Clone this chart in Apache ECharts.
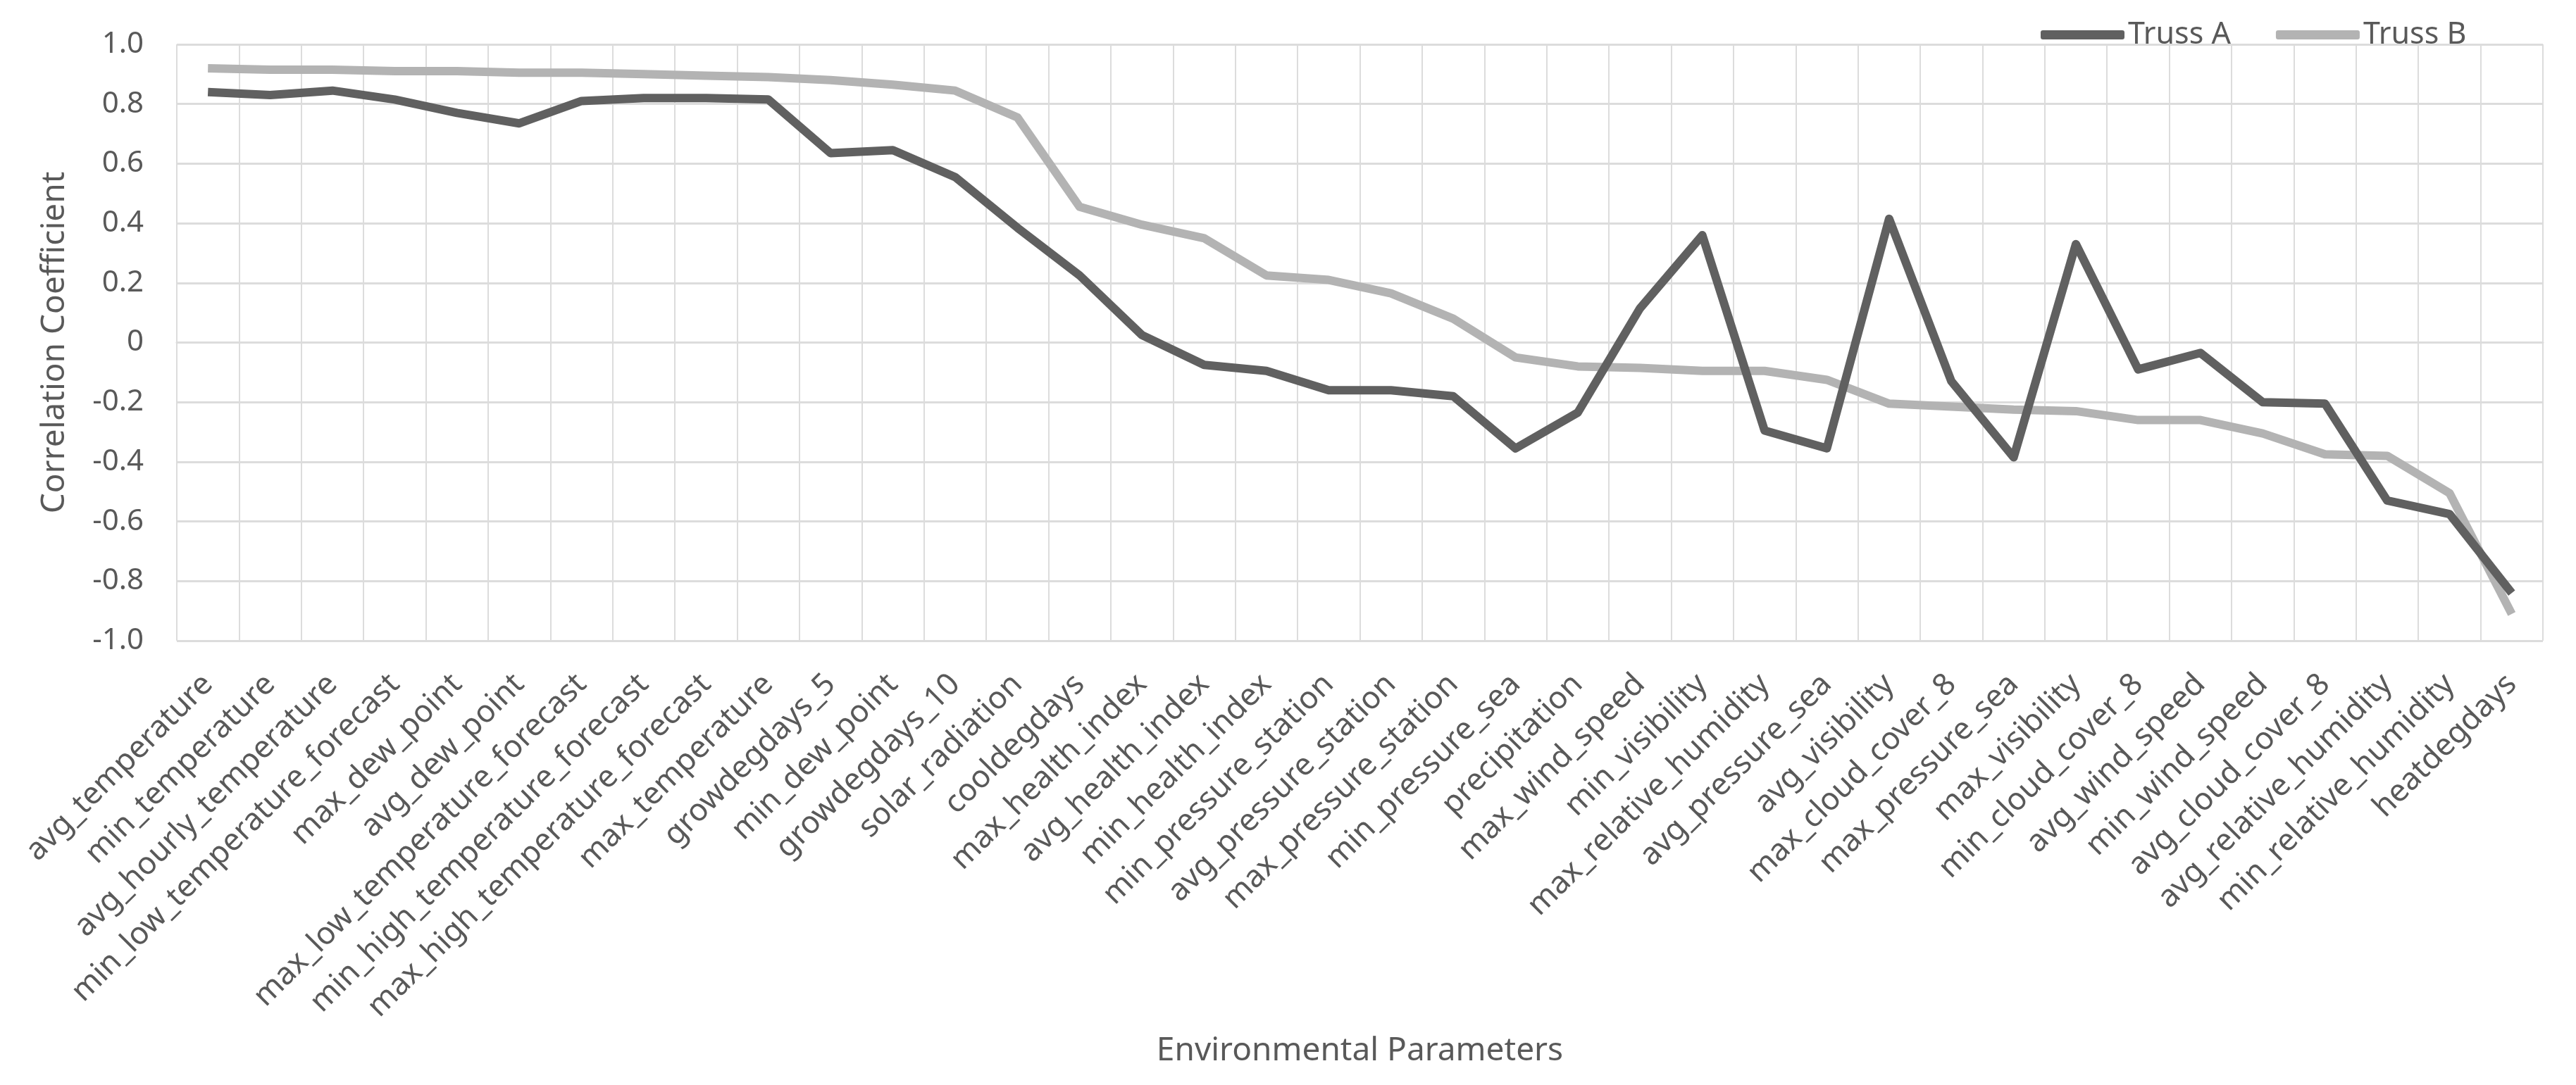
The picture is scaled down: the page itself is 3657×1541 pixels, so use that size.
<!DOCTYPE html>
<html>
<head>
<meta charset="utf-8">
<script src="https://cdn.jsdelivr.net/npm/echarts@6/dist/echarts.min.js"></script>
<style>
  html, body { margin: 0; padding: 0; background: #ffffff; }
  #chart { width: 3657px; height: 1541px; }
</style>
</head>
<body>
<div id="chart"></div>
<script>
const categories = [
  'avg_temperature', 'min_temperature', 'avg_hourly_temperature', 'min_low_temperature_forecast',
  'max_dew_point', 'avg_dew_point', 'max_low_temperature_forecast', 'min_high_temperature_forecast',
  'max_high_temperature_forecast', 'max_temperature', 'growdegdays_5', 'min_dew_point',
  'growdegdays_10', 'solar_radiation', 'cooldegdays', 'max_health_index', 'avg_health_index',
  'min_health_index', 'min_pressure_station', 'avg_pressure_station', 'max_pressure_station',
  'min_pressure_sea', 'precipitation', 'max_wind_speed', 'min_visibility', 'max_relative_humidity',
  'avg_pressure_sea', 'avg_visibility', 'max_cloud_cover_8', 'max_pressure_sea', 'max_visibility',
  'min_cloud_cover_8', 'avg_wind_speed', 'min_wind_speed', 'avg_cloud_cover_8',
  'avg_relative_humidity', 'min_relative_humidity', 'heatdegdays'
];

const trussA = [
  0.84, 0.83, 0.845, 0.815, 0.77, 0.735, 0.81, 0.82, 0.82, 0.815,
  0.635, 0.645, 0.555, 0.385, 0.225, 0.025, -0.075, -0.095, -0.16, -0.16,
  -0.18, -0.355, -0.235, 0.115, 0.36, -0.295, -0.355, 0.415, -0.13, -0.385,
  0.33, -0.09, -0.035, -0.2, -0.205, -0.53, -0.575, -0.84
];

const trussB = [
  0.92, 0.915, 0.915, 0.91, 0.91, 0.905, 0.905, 0.9, 0.895, 0.89,
  0.88, 0.865, 0.845, 0.755, 0.455, 0.395, 0.35, 0.225, 0.21, 0.165,
  0.08, -0.05, -0.08, -0.085, -0.095, -0.095, -0.125, -0.205, -0.215, -0.225,
  -0.23, -0.26, -0.26, -0.305, -0.375, -0.38, -0.505, -0.91
];

const seriesNames = ['Truss A', 'Truss B'];
const yTicks = { min: -1, max: 1, step: 0.2 };

const textColor = '#595959';
const gridColor = '#dcdcdc';
const fontFamily = '"Noto Sans", "Open Sans", sans-serif';

const chart = echarts.init(document.getElementById('chart'), null, { renderer: 'canvas' });

chart.setOption({
  backgroundColor: '#ffffff',
  animation: false,
  textStyle: { fontFamily: fontFamily, color: textColor },
  legend: {
    data: seriesNames,
    left: 2892,
    top: 23,
    icon: 'roundRect',
    itemWidth: 119,
    itemHeight: 13,
    itemGap: 64,
    textStyle: { fontSize: 43, color: textColor, fontFamily: fontFamily }
  },
  grid: { left: 251, right: 47, top: 63, bottom: 631, containLabel: false },
  xAxis: {
    type: 'category',
    data: categories,
    boundaryGap: true,
    name: 'Environmental Parameters',
    nameLocation: 'middle',
    nameGap: 560,
    nameTextStyle: { fontSize: 46, color: textColor, fontFamily: fontFamily },
    axisLine: { show: true, lineStyle: { color: gridColor, width: 3 } },
    axisTick: { show: false },
    axisLabel: {
      interval: 0,
      rotate: 45,
      margin: 55,
      fontSize: 44,
      color: textColor,
      fontFamily: fontFamily
    },
    splitLine: { show: true, interval: 0, lineStyle: { color: gridColor, width: 2 } }
  },
  yAxis: {
    type: 'value',
    min: yTicks.min,
    max: yTicks.max,
    interval: yTicks.step,
    name: 'Correlation Coefficient',
    nameLocation: 'middle',
    nameRotate: 90,
    nameGap: 150,
    nameTextStyle: { fontSize: 46, color: textColor, fontFamily: fontFamily },
    axisLine: { show: false },
    axisTick: { show: false },
    axisLabel: {
      margin: 47,
      fontSize: 42,
      color: textColor,
      fontFamily: fontFamily,
      formatter: function (v) {
        const r = Math.round(v * 10) / 10;
        return r === 0 ? '0' : r.toFixed(1);
      }
    },
    splitLine: { show: true, lineStyle: { color: gridColor, width: 3 } }
  },
  series: [
    {
      name: seriesNames[0],
      type: 'line',
      data: trussA,
      showSymbol: false,
      symbol: 'none',
      itemStyle: { color: '#606060' },
      lineStyle: { color: '#606060', width: 12, join: 'round', cap: 'butt' },
      z: 3
    },
    {
      name: seriesNames[1],
      type: 'line',
      data: trussB,
      showSymbol: false,
      symbol: 'none',
      itemStyle: { color: '#b3b3b3' },
      lineStyle: { color: '#b3b3b3', width: 12, join: 'round', cap: 'butt' },
      z: 2
    }
  ]
});
</script>
</body>
</html>
